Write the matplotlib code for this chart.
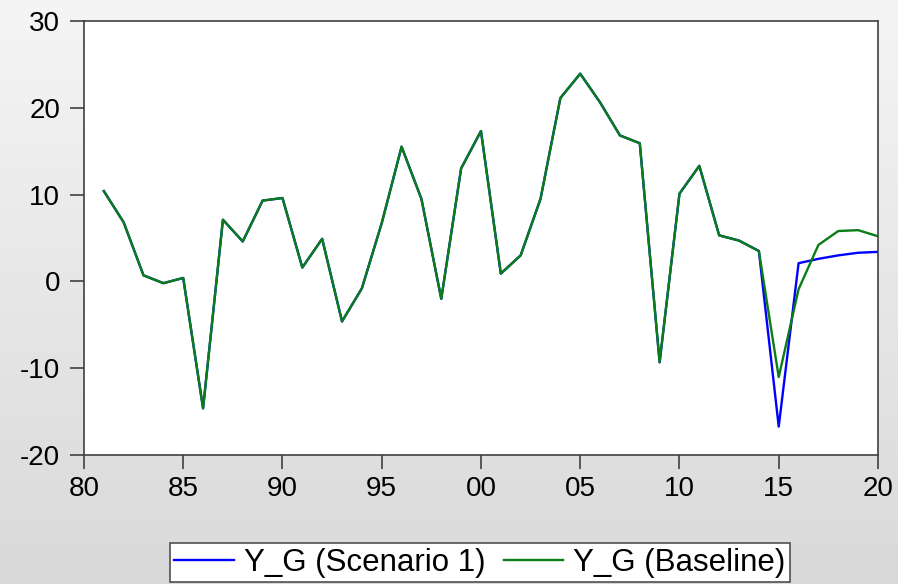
import numpy as np
import matplotlib
matplotlib.use("Agg")
from matplotlib import pyplot as plt
from matplotlib.colors import LinearSegmentedColormap

plt.rcParams['font.family'] = ['Liberation Sans', 'DejaVu Sans']
plt.rcParams['axes.unicode_minus'] = False

years = list(range(1981, 2021))

# Y_G growth, baseline run
baseline = [10.4, 6.8, 0.7, -0.2, 0.4, -14.6, 7.1, 4.6, 9.3, 9.6,
            1.6, 4.9, -4.6, -0.8, 6.7, 15.5, 9.5, -2.0, 13.0, 17.3,
            0.9, 3.0, 9.5, 21.1, 23.9, 20.6, 16.8, 15.9, -9.3, 10.1,
            13.3, 5.3, 4.7, 3.5, -11.0, -0.9, 4.2, 5.8, 5.9, 5.2]

# scenario 1 only departs from baseline from 2015 on
scenario1 = baseline[:34] + [-16.7, 2.1, 2.6, 3.0, 3.3, 3.4]

xticks = [1980, 1985, 1990, 1995, 2000, 2005, 2010, 2015, 2020]
xticklabels = ['80', '85', '90', '95', '00', '05', '10', '15', '20']
yticks = [-20, -10, 0, 10, 20, 30]

fig = plt.figure(figsize=(8.98, 5.84), dpi=100)

# grey gradient behind everything
bg = fig.add_axes([0, 0, 1, 1], zorder=-10)
grad = np.linspace(0, 1, 256).reshape(-1, 1)
cmap = LinearSegmentedColormap.from_list('bg', ['#f5f5f5', '#d9d9d9'])
bg.imshow(grad, aspect='auto', cmap=cmap, extent=[0, 1, 0, 1])
bg.axis('off')

ax = fig.add_axes([0.0935, 0.2204, 0.8842, 0.7442])
ax.set_facecolor('white')

l1, = ax.plot(years, scenario1, color='#0000ff', lw=1.7)
l2, = ax.plot(years, baseline, color='#0a7d16', lw=1.7)

ax.set_xlim(1980, 2020)
ax.set_ylim(-20, 30)
ax.set_xticks(xticks)
ax.set_xticklabels(xticklabels)
ax.set_yticks(yticks)
ax.tick_params(axis='both', direction='out', length=10, width=1.2,
               color='#404040', labelsize=20, labelcolor='black')
ax.tick_params(axis='x', pad=5)
ax.tick_params(axis='y', pad=7)

for sp in ax.spines.values():
    sp.set_color('#404040')
    sp.set_linewidth(1.2)

leg = fig.legend([l1, l2], ['Y_G (Scenario 1)', 'Y_G (Baseline)'],
                 loc='upper center', bbox_to_anchor=(0.5345, 1 - 543 / 584), ncol=2,
                 fontsize=22.5, frameon=True, fancybox=False, framealpha=1,
                 edgecolor='#505050', handlelength=1.9, handletextpad=0.32,
                 columnspacing=0.6, borderpad=0.15, borderaxespad=0)
leg.get_frame().set_linewidth(1.2)

fig.savefig('out.png', dpi=100)
